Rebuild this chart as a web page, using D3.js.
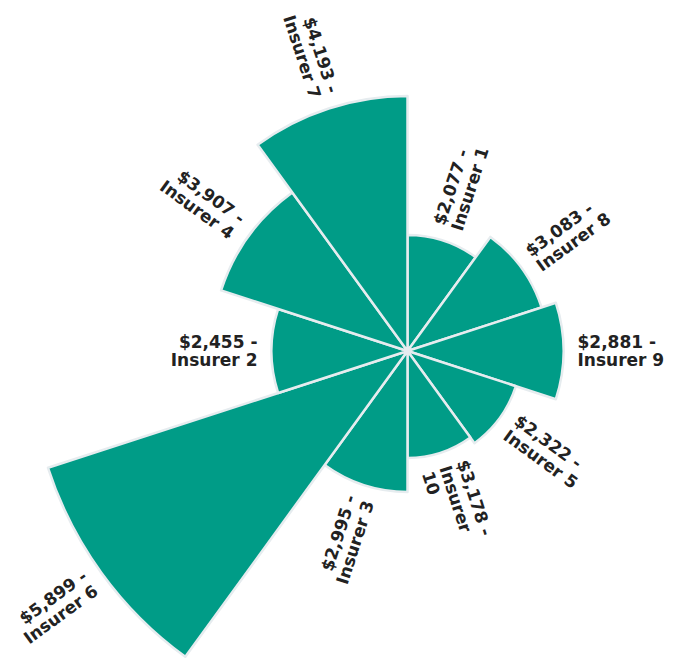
<!DOCTYPE html>
<html>
<head>
<meta charset="utf-8">
<script src="https://cdn.jsdelivr.net/npm/d3@7"></script>
<style>
  html, body { margin: 0; padding: 0; background: #ffffff; }
  svg { display: block; }
</style>
</head>
<body>
<svg id="chart" width="678" height="658"></svg>
<script>
// Slice order, clockwise from 12 o'clock
const insurers = ["Insurer 1", "Insurer 8", "Insurer 9", "Insurer 5", "Insurer 10",
                  "Insurer 3", "Insurer 6", "Insurer 2", "Insurer 4", "Insurer 7"];
// Amount shown in each label
const amounts = [2077, 3083, 2881, 2322, 3178, 2995, 5899, 2455, 3907, 4193];
// Metric that sets each slice's radius (chart units)
const sizeValues = [116, 141, 156, 114, 107, 141, 378, 136, 196, 255];

const width = 678, height = 658;
const cx = 407.5, cy = 351;
const maxRadius = 378;
const labelGap = 14;
const wrapWidth = 92;
const lineHeight = 18.5;

const data = insurers.map((name, i) => ({ name, amount: amounts[i], size: sizeValues[i] }));

const svg = d3.select("#chart");
const g = svg.append("g").attr("transform", `translate(${cx},${cy})`);

const angle = d3.scaleBand().domain(insurers).range([0, 2 * Math.PI]).padding(0);
const radius = d3.scaleLinear().domain([0, d3.max(sizeValues)]).range([0, maxRadius]);

const arc = d3.arc()
  .innerRadius(0)
  .outerRadius(d => radius(d.size))
  .startAngle(d => angle(d.name))
  .endAngle(d => angle(d.name) + angle.bandwidth());

g.selectAll("path.slice")
  .data(data)
  .join("path")
  .attr("class", "slice")
  .attr("d", arc)
  .attr("fill", "#009c87")
  .attr("stroke", "#e6ecef")
  .attr("stroke-width", 2.5)
  .attr("stroke-linejoin", "round");

const fmt = d3.format("$,");

const labels = g.selectAll("g.label")
  .data(data)
  .join("g")
  .attr("class", "label")
  .attr("transform", d => {
    const a = angle(d.name) + angle.bandwidth() / 2;
    const r = radius(d.size) + labelGap;
    const deg = a * 180 / Math.PI;
    const rot = deg < 180 ? deg - 90 : deg - 270;
    return `translate(${Math.sin(a) * r},${-Math.cos(a) * r}) rotate(${rot})`;
  });

labels.each(function(d) {
  const a = angle(d.name) + angle.bandwidth() / 2;
  const deg = a * 180 / Math.PI;
  const text = d3.select(this).append("text")
    .attr("text-anchor", deg < 180 ? "start" : "end")
    .attr("font-family", "'DejaVu Sans', Verdana, sans-serif")
    .attr("font-weight", "bold")
    .attr("font-size", 17)
    .attr("fill", "#222222");
  const words = `${fmt(d.amount)} - ${d.name}`.split(" ");
  const lines = [];
  let current = [];
  const probe = text.append("tspan");
  words.forEach(w => {
    const trial = current.concat([w]).join(" ");
    probe.text(trial);
    if (probe.node().getComputedTextLength() > wrapWidth && current.length) {
      lines.push(current.join(" "));
      current = [w];
    } else {
      current.push(w);
    }
  });
  if (current.length) lines.push(current.join(" "));
  probe.remove();
  const n = lines.length;
  lines.forEach((line, i) => {
    text.append("tspan")
      .attr("x", 0)
      .attr("y", (i - (n - 1) / 2) * lineHeight)
      .attr("dy", "0.35em")
      .text(line);
  });
});
</script>
</body>
</html>
